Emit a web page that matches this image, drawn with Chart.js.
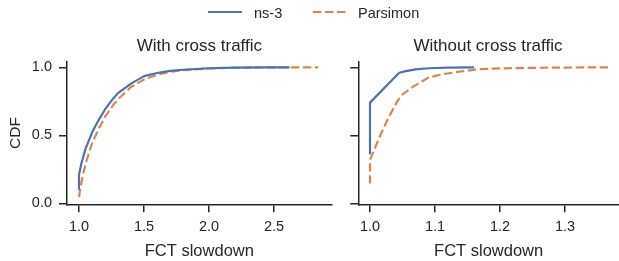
<!DOCTYPE html>
<html>
<head>
<meta charset="utf-8">
<script src="https://cdn.jsdelivr.net/npm/chart.js@4.4.1/dist/chart.umd.min.js"></script>
<style>
  html, body { margin: 0; padding: 0; background: #fff; }
  #wrap { position: relative; width: 619px; height: 261px; overflow: hidden; font-family: "Liberation Sans", Arial, sans-serif; color: #262626; }
  canvas { position: absolute; top: 0; }
  .ttl { position: absolute; width: 300px; text-align: center; font-size: 17px; line-height: 17px; white-space: nowrap; }
  .leg { position: absolute; font-size: 14.5px; line-height: 14.5px; white-space: nowrap; }
  svg { position: absolute; }
</style>
</head>
<body>
<div id="wrap">
  <canvas id="cLeft" width="340" height="261" style="left:0px"></canvas>
  <canvas id="cRight" width="281" height="261" style="left:338px"></canvas>
  <div class="ttl" style="left:49.4px; top:37px;">With cross traffic</div>
  <div class="ttl" style="left:338px; top:37px;">Without cross traffic</div>
  <svg width="40" height="6" style="left:207px; top:9px;"><line x1="1" y1="3" x2="35" y2="3" stroke="#4C72B0" stroke-width="2.2"/></svg>
  <div class="leg" style="left:254px; top:6.3px;">ns-3</div>
  <svg width="40" height="6" style="left:312px; top:9px;"><line x1="1" y1="3" x2="34" y2="3" stroke="#DD8452" stroke-width="2.2" stroke-dasharray="8.4 3.6"/></svg>
  <div class="leg" style="left:358px; top:6.3px;">Parsimon</div>
</div>
<script>
// ---- data ----
const seriesNames = ["ns-3", "Parsimon"];
const panelTitles = ["With cross traffic", "Without cross traffic"];

// With cross traffic
const withNs3X = [1.0, 1.0, 1.02, 1.05, 1.1, 1.15, 1.2, 1.25, 1.3, 1.4, 1.5, 1.6, 1.7, 1.8, 2.0, 2.2, 2.4, 2.62];
const withNs3Y = [0.1, 0.21, 0.3, 0.4, 0.52, 0.61, 0.69, 0.755, 0.81, 0.88, 0.935, 0.958, 0.973, 0.982, 0.993, 0.997, 0.999, 1.0];
const withParsX = [1.0, 1.01, 1.03, 1.06, 1.1, 1.15, 1.2, 1.25, 1.3, 1.4, 1.5, 1.6, 1.7, 1.8, 2.0, 2.2, 2.5, 2.84];
const withParsY = [0.045, 0.11, 0.21, 0.32, 0.44, 0.545, 0.635, 0.705, 0.765, 0.855, 0.91, 0.945, 0.966, 0.978, 0.991, 0.996, 0.999, 1.0];

// Without cross traffic
const woNs3X = [1.0, 1.0, 1.045, 1.055, 1.07, 1.09, 1.12, 1.16];
const woNs3Y = [0.36, 0.74, 0.96, 0.972, 0.985, 0.993, 0.998, 1.0];
const woParsX = [1.0, 1.0, 1.015, 1.028, 1.042, 1.05, 1.067, 1.09, 1.113, 1.138, 1.165, 1.2, 1.25, 1.3, 1.367];
const woParsY = [0.145, 0.32, 0.49, 0.625, 0.75, 0.80, 0.86, 0.925, 0.95, 0.968, 0.985, 0.992, 0.996, 0.998, 1.0];

// tick labels
const yTicks = [0.0, 0.5, 1.0];
const xTicksWith = [1.0, 1.5, 2.0, 2.5];
const xTicksWithout = [1.0, 1.1, 1.2, 1.3];
const xLabel = "FCT slowdown";
const yLabel = "CDF";

// ---- styling ----
const INK = "#262626";
const BLUE = "#4C72B0";
const ORANGE = "#DD8452";
const FONT = "'Liberation Sans', Arial, sans-serif";

function pts(xs, ys) { return xs.map((x, i) => ({ x: x, y: ys[i] })); }

function datasets(nx, ny, px, py) {
  return [
    { label: seriesNames[0], data: pts(nx, ny), borderColor: BLUE, borderWidth: 2.2,
      pointRadius: 0, tension: 0, fill: false, borderJoinStyle: 'round' },
    { label: seriesNames[1], data: pts(px, py), borderColor: ORANGE, borderWidth: 2.2,
      borderDash: [8.4, 3.6], pointRadius: 0, tension: 0, fill: false }
  ];
}

function axisCommon() {
  return {
    border: { display: true, color: INK, width: 1.5 },
    grid: { display: true, drawOnChartArea: false, drawTicks: true, tickLength: 8,
            color: INK, tickColor: INK, lineWidth: 1.5, tickWidth: 1.5 },
  };
}

function makeChart(id, opts) {
  const x = Object.assign(axisCommon(), {
    type: 'linear', position: 'bottom', min: opts.xmin, max: opts.xmax,
    afterBuildTicks: s => { s.ticks = opts.xticks.map(v => ({ value: v })); },
    afterFit: s => { s.height = 261 - 204.3; },
    ticks: { color: INK, padding: 6, font: { family: FONT, size: 14.5 },
             maxRotation: 0, autoSkip: false, callback: v => Number(v).toFixed(1) },
    title: { display: true, text: xLabel, color: INK, font: { family: FONT, size: 16.5 },
             padding: { top: 4, bottom: 0 } }
  });
  const y = Object.assign(axisCommon(), {
    type: 'linear', position: 'left', min: -0.0074, max: 1.041,
    afterBuildTicks: s => { s.ticks = yTicks.map(v => ({ value: v })); },
    afterFit: s => { s.width = opts.yw; },
    ticks: { display: opts.showY, color: INK, padding: 7, font: { family: FONT, size: 14.5 },
             callback: v => Number(v).toFixed(1) },
    title: { display: opts.showY, text: yLabel, color: INK, font: { family: FONT, size: 15.5 },
             padding: { top: 6, bottom: 0 } }
  });
  return new Chart(document.getElementById(id), {
    type: 'line',
    data: { datasets: opts.ds },
    options: {
      responsive: false, animation: false, devicePixelRatio: 1,
      layout: { padding: { left: 0, top: 61.7, right: opts.padR, bottom: 0 } },
      plugins: { legend: { display: false }, title: { display: false }, tooltip: { enabled: false } },
      scales: { x: x, y: y }
    }
  });
}

makeChart('cLeft', {
  ds: datasets(withNs3X, withNs3Y, withParsX, withParsY),
  xmin: 0.9077, xmax: 2.944, xticks: xTicksWith, yw: 67, showY: true, padR: 340 - 331.7
});
makeChart('cRight', {
  ds: datasets(woNs3X, woNs3Y, woParsX, woParsY),
  xmin: 0.982, xmax: 1.383, xticks: xTicksWithout, yw: 20.3, showY: false, padR: 0
});
</script>
</body>
</html>
